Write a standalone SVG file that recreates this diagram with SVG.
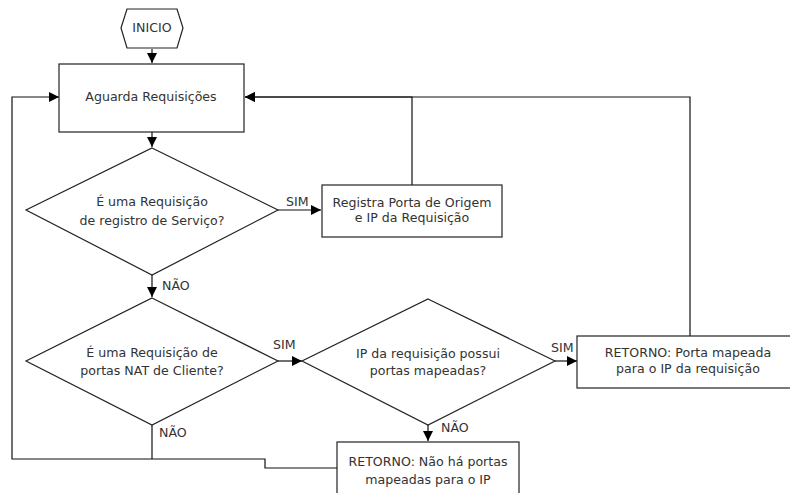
<svg xmlns="http://www.w3.org/2000/svg" width="790" height="493" viewBox="0 0 790 493">
  <style>
    .shape { fill: #ffffff; stroke: #222222; stroke-width: 1.2; }
    .wire { fill: none; stroke: #111111; stroke-width: 1.2; }
    text { font-family: "DejaVu Sans", "Liberation Sans", sans-serif; font-size: 12.6px; fill: #333333; }
    .c { text-anchor: middle; }
  </style>
  <defs>
    <marker id="arrow" markerWidth="10" markerHeight="10" refX="10" refY="5" orient="auto" markerUnits="userSpaceOnUse">
      <path d="M0,0 L10,5 L0,10 Z" fill="#000000"/>
    </marker>
  </defs>

  <rect width="790" height="493" fill="#ffffff"/>

  <!-- connectors -->
  <g id="connectors">
    <line class="wire" x1="152" y1="49" x2="152" y2="63" marker-end="url(#arrow)"/>
    <line class="wire" x1="152" y1="132" x2="152" y2="147" marker-end="url(#arrow)"/>
    <line class="wire" x1="278" y1="210" x2="321" y2="210" marker-end="url(#arrow)"/>
    <polyline class="wire" points="412,185 412,97 245,97" marker-end="url(#arrow)"/>
    <line class="wire" x1="152" y1="275" x2="152" y2="297" marker-end="url(#arrow)"/>
    <line class="wire" x1="278" y1="361" x2="302" y2="361" marker-end="url(#arrow)"/>
    <line class="wire" x1="555" y1="361" x2="577" y2="361" marker-end="url(#arrow)"/>
    <polyline class="wire" points="690,336 690,97 245,97" marker-end="url(#arrow)"/>
    <line class="wire" x1="428" y1="425" x2="428" y2="441" marker-end="url(#arrow)"/>
    <line class="wire" x1="152" y1="425" x2="152" y2="459"/>
    <polyline class="wire" points="337,468 265,468 265,459 12,459 12,97 59,97" marker-end="url(#arrow)"/>
    <text x="286" y="206">SIM</text>
    <text x="162" y="290">NÃO</text>
    <text x="273" y="349">SIM</text>
    <text x="159" y="437">NÃO</text>
    <text x="551" y="352">SIM</text>
    <text x="441" y="432">NÃO</text>
  </g>

  <g id="inicio">
    <polygon class="shape" points="121,28 127,9 177,9 183,28 177,48 127,48"/>
    <text class="c" x="152" y="32">INICIO</text>
  </g>

  <g id="aguarda">
    <rect class="shape" x="59" y="64" width="185" height="68"/>
    <text class="c" x="151" y="101">Aguarda Requisições</text>
  </g>

  <g id="decisao-registro">
    <polygon class="shape" points="152,148 278,210 152,275 26,210"/>
    <text class="c" x="152" y="206">É uma Requisição</text>
    <text class="c" x="152" y="225">de registro de Serviço?</text>
  </g>

  <g id="registra">
    <rect class="shape" x="322" y="185" width="180" height="52"/>
    <text class="c" x="412" y="207">Registra Porta de Origem</text>
    <text class="c" x="412" y="222">e IP da Requisição</text>
  </g>

  <g id="decisao-nat">
    <polygon class="shape" points="152,298 278,361 152,425 26,361"/>
    <text class="c" x="152" y="357">É uma Requisição de</text>
    <text class="c" x="152" y="375">portas NAT de Cliente?</text>
  </g>

  <g id="decisao-mapeadas">
    <polygon class="shape" points="428,299 555,361 428,425 302,361"/>
    <text class="c" x="428" y="358">IP da requisição possui</text>
    <text class="c" x="428" y="375">portas mapeadas?</text>
  </g>

  <g id="retorno-mapeada">
    <rect class="shape" x="577" y="336" width="224" height="52"/>
    <text class="c" x="688" y="357">RETORNO: Porta mapeada</text>
    <text class="c" x="688" y="373">para o IP da requisição</text>
  </g>

  <g id="retorno-sem-portas">
    <rect class="shape" x="337" y="442" width="182" height="60"/>
    <text class="c" x="428" y="466">RETORNO: Não há portas</text>
    <text class="c" x="428" y="484">mapeadas para o IP</text>
  </g>
</svg>
